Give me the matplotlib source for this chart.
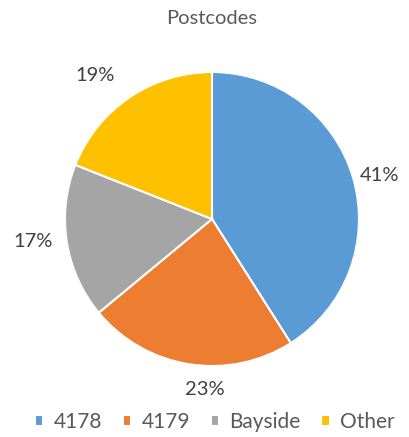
import numpy as np
import matplotlib.pyplot as plt

labels = ['4178', '4179', 'Bayside', 'Other']
shares = [41, 23, 17, 19]
colors = ['#5B9BD5', '#ED7D31', '#A5A5A5', '#FFC000']

# Excel "best fit" label placement: radial distance and angle nudge per slice
label_dist = [1.18, 1.16, 1.23, 1.26]
label_nudge = [-1.8, 6.6, -1.7, 4.8]

plt.rcParams['font.family'] = ['Lato', 'DejaVu Sans']

fig = plt.figure(figsize=(4.09, 4.37), dpi=100)
ax = fig.add_axes([65 / 409, 71 / 437, 294 / 409, 294 / 437])

wedges, texts, autotexts = ax.pie(shares, colors=colors, startangle=90, counterclock=False,
                                  autopct='%1.0f%%', pctdistance=1.2,
                                  wedgeprops={'edgecolor': 'white', 'linewidth': 1.5},
                                  textprops={'fontsize': 14.5, 'color': '#404040'})
for w, t, d, n in zip(wedges, autotexts, label_dist, label_nudge):
    a = np.deg2rad((w.theta1 + w.theta2) / 2 + n)
    t.set_position((d * np.cos(a), d * np.sin(a)))

ax.set_xlim(-1, 1)
ax.set_ylim(-1, 1)
ax.set_aspect('equal')

fig.text(212 / 409, 1 - 18 / 437, 'Postcodes', ha='center', va='center', fontsize=14.5, color='#595959')

leg = fig.legend(wedges, labels, loc='center', bbox_to_anchor=(0.525, 1 - 422 / 437), ncol=4,
                 frameon=False, fontsize=15, handlelength=0.4, handleheight=0.4,
                 handletextpad=0.5, columnspacing=1.0, labelcolor='#595959')

fig.savefig('out.png', dpi=100)
